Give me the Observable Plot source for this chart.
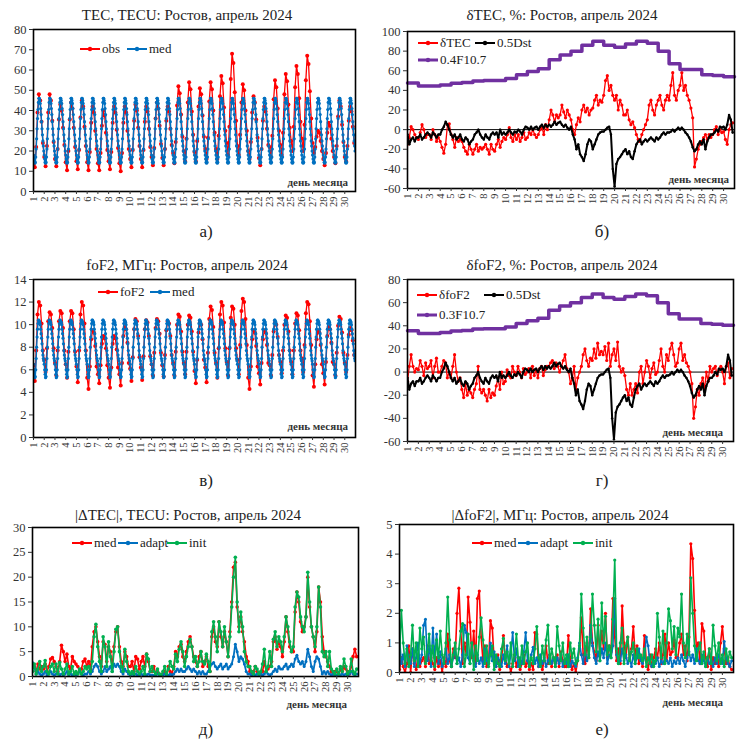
<!DOCTYPE html>
<html><head><meta charset="utf-8">
<script src="https://cdn.jsdelivr.net/npm/d3@7"></script>
<script src="https://cdn.jsdelivr.net/npm/@observablehq/plot@0.6"></script>
<style>
body{margin:0;background:#fff;}
#root{position:relative;width:751px;height:744px;overflow:hidden;font-family:"Liberation Serif","Times New Roman",serif;color:#222;}
.t{position:absolute;transform:translate(-50%,-50%);white-space:nowrap;font-size:15px;}
.lab{position:absolute;transform:translate(-50%,-50%);font-size:17px;}
.dm{position:absolute;font-size:11px;font-weight:bold;color:#333;transform:translate(-100%,-50%);white-space:nowrap;}
.leg{position:absolute;display:flex;align-items:center;font-size:13px;transform:translateY(-50%);white-space:nowrap;}
.panel{position:absolute;}
</style></head><body><div id="root"></div>
<script>
// ---------- DATA ----------
const days = d3.range(1, 31);
// monthly median diurnal profiles (hourly, repeated every day)
const medTECProfile = [18,16,14.5,14,14.5,17,21,26,31,36,40.5,44,46,46,45,43.5,41,38,34.5,31,28,25,22.5,20];
const medFoF2Profile = [6.5,6.0,5.6,5.3,5.4,6.0,7.0,8.0,8.9,9.6,10.1,10.4,10.4,10.3,10.2,10.0,9.6,9.2,8.8,8.3,7.7,7.3,7.0,6.8];
// observed TEC, 3-hourly (8 per day)
const obsTEC = [
16.5,12,22,39,48,45,34.5,24, 17,12.5,22.5,39,48,45,35,24.5, 16,12.5,21,35.5,43,40,31.5,23,
14.5,10.5,20,35.5,44,41,31.5,22, 15,11,20.5,36.5,45,42,32,22.5, 14.5,10.5,19.5,34,42,39,30,21,
14,10.5,19,32.5,40,37.5,29,20.5, 15,11,19.5,34,42,39,30.5,21.5, 14,10,19,34,42,39,30,21,
16,12,20.5,35,43,40,31.5,22.5, 16,12,20.5,34.5,42,39.5,31,22, 17,13,21.5,36,44,41,32.5,23.5,
16.5,13,21,35,42,39.5,31,23, 19,14,24.5,42.5,52,48.5,38,27, 20,15,26,44,54,50.5,39.5,28,
19.5,15,25,42,51,48,37.5,27, 21,16,26.5,44.5,54,50.5,40,29, 21,16,27.5,47,57,53.5,41.5,30,
24,18,32,55.5,68,63.5,49,35, 22.5,18,28,44,53,50,40,30, 20,16,24.5,39,47,44,35.5,26.5,
16.5,13,21,35,42,39.5,31,23, 22,17,27.5,45.5,55,51.5,41,30, 23,18,29,48,58,54.5,43,31.5,
25,20,32,51.5,62,58,46,34.5, 26,20,33,55,67,63,49.5,36, 24,19,22,27,30,29,25,20,
16,13,19,29,34,32.5,26,20, 17,14,22.5,37,45,42,33,24.5, 17,15,22.5,35,42,39.5,32,24];
// observed foF2, 3-hourly (8 per day)
const obsFoF2 = [
6.4,5.0,7.7,10.9,12.0,11.7,10.1,7.7, 6.9,5.8,7.9,10.3,11.1,10.9,9.7,7.9, 6.6,5.5,7.7,10.3,11.2,11.0,9.7,7.7,
6.5,5.3,7.6,10.3,11.2,11.0,9.6,7.6, 6.3,4.9,7.7,10.9,12.0,11.7,10.1,7.7, 5.3,4.3,6.3,8.7,9.5,9.3,8.1,6.3,
5.6,4.8,6.4,8.3,9.0,8.8,7.9,6.4, 5.3,4.4,6.2,8.3,9.0,8.8,7.8,6.2, 5.6,4.6,6.6,9.0,9.8,9.6,8.4,6.6,
6.1,5.0,7.1,9.6,10.5,10.3,9.0,7.1, 6.2,5.1,7.2,9.6,10.4,10.2,9.0,7.2, 6.5,5.5,7.5,9.7,10.5,10.3,9.2,7.5,
6.4,5.4,7.3,9.5,10.3,10.1,9.0,7.3, 6.6,5.5,7.6,10.0,10.9,10.7,9.4,7.6, 6.6,5.6,7.6,10.0,10.8,10.6,9.4,7.6,
5.9,4.8,6.9,9.3,10.2,10.0,8.7,6.9, 6.2,4.9,7.5,10.5,11.6,11.3,9.8,7.5, 6.6,5.3,7.9,10.9,12.0,11.7,10.2,7.9,
6.7,5.5,7.9,10.6,11.6,11.4,10.0,7.9, 6.9,5.6,8.2,11.2,12.3,12.0,10.5,8.2, 5.3,4.3,6.3,8.7,9.5,9.3,8.1,6.3,
5.7,4.7,6.6,8.7,9.5,9.3,8.2,6.6, 6.4,5.5,7.3,9.4,10.2,10.0,8.9,7.3, 6.7,5.7,7.7,10.0,10.8,10.6,9.4,7.7,
6.7,5.6,7.7,10.1,11.0,10.8,9.5,7.7, 7.0,5.8,8.2,11.0,12.0,11.8,10.3,8.2, 5.5,4.5,6.5,8.7,9.5,9.3,8.2,6.5,
5.7,4.7,6.7,9.0,9.8,9.6,8.4,6.7, 6.5,5.5,7.5,9.9,10.7,10.5,9.3,7.5, 6.6,5.8,7.3,9.1,9.7,9.5,8.6,7.3];
// deviations, %, 4-hourly (6 per day)
const dTEC = [
-15,-8,3,0,-5,-8, -10,-3,5,0,-8,-5, -5,-10,0,-5,-12,-8, -12,-18,-24,-15,5,6, -5,-10,-18,-8,-12,-10,
-12,-18,-22,-25,-15,-20, -25,-20,-15,-22,-18,-20, -18,-15,-20,-25,-15,-20, -22,-15,-10,-18,-12,-8, -10,-5,2,-8,-12,-5,
-10,-5,-12,-8,-3,-10, -8,-3,-5,0,-5,-8, -5,0,3,-5,5,0, 10,20,15,8,15,12, 15,25,18,12,20,15,
10,0,-5,5,12,8, 20,25,18,22,15,20, 22,30,35,25,30,28, 35,50,55,40,45,35, 30,35,20,30,25,15,
15,20,10,5,8,2, -5,-10,-12,-5,0,5, 10,25,30,20,15,25, 30,35,25,20,30,35, 30,45,58,35,30,40,
45,58,40,45,35,30, 22,12,-38,-30,-20,-15, -12,-8,-5,-10,-5,-8, -5,0,3,-5,0,-3, -2,-10,-15,0,5,7];
const dFoF2 = [
-8,5,15,5,0,3, 2,10,5,-3,8,3, 5,10,-5,5,12,0, 0,5,10,8,-5,0, -5,5,15,0,-8,-5,
-15,-22,-10,-20,-15,-18, -22,-15,-10,5,-15,-18, -15,-20,-25,-15,-22,-18, -20,-12,-5,-15,0,-10, -8,2,-3,-5,5,0,
-3,5,0,-5,3,-2, 0,3,-5,5,-3,2, -5,3,5,-3,2,5, 5,8,10,3,8,5, 0,5,10,15,3,0,
-10,-5,5,-15,-5,0, 5,15,20,10,5,12, 10,20,12,25,15,18, 15,22,10,25,5,15, 20,10,26,5,0,3,
-3,-15,-20,-10,-20,-15, -10,-18,0,5,-10,0, 10,5,-5,3,8,-2, 0,10,20,5,0,15, 10,20,25,15,5,8,
20,25,10,15,8,5, 0,-10,-40,-30,-15,-20, -10,-5,-15,0,-8,5, 0,3,5,-3,2,5, 0,-10,5,8,-5,3];
// 0.5·Dst, 4-hourly (6 per day)
const dst05 = [
-5,-15,-10,-8,-12,-8, -8,-5,-10,-8,-5,-3, -5,-8,-3,-5,-8,-5, -5,0,3,8,5,0, -5,-8,-5,-10,-8,-5,
-10,-12,-8,-10,-15,-12, -10,-5,-3,0,-5,-8, -10,-5,-8,-10,-5,-3, -5,-3,-8,0,-5,-3, -5,-3,0,-3,-5,-2,
-3,0,-2,-5,0,3, 2,0,3,0,2,3, 0,3,5,2,5,3, 5,3,5,8,5,7, 8,5,3,5,2,0,
3,-5,-10,-20,-15,-25, -28,-32,-25,-15,-10,-12, -20,-15,-10,-5,-3,-2, -2,0,2,3,-5,-40, -58,-35,-30,-28,-25,-22,
-20,-25,-22,-28,-30,-22, -15,-12,-10,-15,-12,-10, -12,-10,-8,-10,-12,-8, -10,-8,-5,-3,-5,-3, -3,-2,0,-2,0,2,
0,2,0,-3,-5,-8, -12,-18,-22,-20,-15,-12, -15,-10,-20,-12,-8,-5, -5,-3,0,-2,3,2, 3,0,5,15,10,-3];
// daily F10.7 index
const f107 = [119,111,111,114,118,120,124,125,125,130,140,148,155,178,190,200,215,225,215,210,218,225,220,200,168,153,153,140,138,135];
// |ΔTEC|, TECU, 4-hourly (6 per day)
const dTECmed = [
2.5,2,1,2.5,1.5,2, 1.5,2.5,1,2,3.5,3.8, 3,2,1,3,6.3,5, 3,4.5,2,1.5,4,3, 2.5,2,1,1.5,3,3.5,
2,3,1.5,6,9,10, 7,4,2,7,6.5,3, 6,5,2,6,9,10, 6,3,2,5,4,2, 2,3,1,4,3.5,1.5,
3,4,2,4.5,3,1, 1,2,0.5,1,0.5,0.3, 0.5,1,0.3,2,1,0.5, 2,5,4,6,6.5,4, 3,5,7,8,6,4,
3,2,4,5,2,3, 4,2,1,8,10,7, 6,11,8,6,9,7, 4,9,15,22,23,14, 10,12,9,7,4,3,
1,0.5,1,2,1,0.5, 0.5,1,3,1,1.5,2, 3,7,8,5.5,7,6, 4,7,12,9,6,5, 5,13,17,15,11,9,
10,12,20,14,10,8, 5,9,18,15,8,5, 4,3,2,1,0.5,1, 1,0.5,1.5,1,2,1.5, 1,0.5,2,4,5.5,4];
const dTECadapt = [
2.8,2,0.5,1,0.5,0.3, 0.5,1,0.3,0.5,1,0.5, 0.3,0.5,0.8,0.3,0.5,0.3, 0.5,1,0.3,0.5,0.3,0.5, 0.3,0.5,1,0.5,0.3,0.5,
0.5,1,0.5,1,2,2.5, 2,1,0.5,1,2,1, 1.5,2,1,2.5,2,2.5, 2,1,0.5,1.5,1,0.5, 0.3,0.5,0.3,0.5,0.3,0.3,
0.5,0.3,0.5,0.3,0.5,0.3, 0.3,0.2,0.3,0.5,0.3,0.2, 0.3,0.5,0.3,0.2,0.5,0.3, 0.5,1,1.5,1,1.5,1, 1,1.5,2,1.5,1,1.5,
1,0.5,1,0.5,1,0.5, 0.5,1,2,2.5,2.8,2, 1.5,2,2.5,1.5,2,2.5, 1.5,2,2.5,4,6.5,5, 3,4,3.5,2.5,1,0.5,
0.5,0.3,0.5,0.3,0.5,0.3, 0.5,0.3,0.5,1,0.5,0.3, 0.5,1,1.5,1,2,1.5, 1.5,2,2.5,1.5,2,2.5, 2,3.5,4.3,3,2.5,3,
2,3,5.5,4,2,1, 3,4,3.5,2,0.5,1, 0.5,1,0.5,0.3,0.5,0.3, 0.3,0.5,0.3,0.5,0.3,0.5, 0.3,0.5,1,0.5,0.3,0.5];
const dTECinit = [
1,2.5,0.5,1.5,3,1, 2,3.2,1,0.5,2,2.5, 1,2.5,0.5,2.8,1.5,0.5, 1.5,2.5,0.5,1,2,0.5, 1,0.5,1.5,0.5,1,2,
1.5,2,1,3,8,10.5, 6,3,1,8,6,2, 7,4,1,5,9.5,10, 5,2,1,5.5,3,1, 0.5,1,0.5,2,1,0.5,
1,2,0.5,4.5,3.5,1, 2,1,0.5,1.5,0.5,0.3, 1,2,0.5,1.5,3,2, 1.5,4.5,3,5.5,7,5, 2,4,6,7.5,6,3,
4,2,3,5,3,2.5, 4.5,3,1,9,11,8, 5,11,9,6,10,7, 4,8,14,20,24,15, 9,13,10,5,3,2,
2,1,0.5,2,1.5,0.5, 1,2.5,5.5,1,2,5, 2,7.5,9,6,8,7, 5,8,12,10,7,5, 6,14,17,16,12,10,
9,12,21,15,10,8, 6,10,18,14,5,4, 5,2,5,1.5,1,0.5, 1.5,0.5,2,1,3.5,2, 0.5,1,3.5,1,0.5,1.5];
// |ΔfoF2|, MHz, 4-hourly (6 per day)
const dFoF2med = [
0.1,0.5,0.2,0.0,0.3,0.9, 0.0,0.8,0.3,0.1,0.6,0.2, 0.4,0.5,0.2,0.9,0.3,0.5, 0.3,0.1,0.5,0.2,0.4,0.0, 0.5,0.2,1.3,0.4,0.2,0.8,
0.5,2.0,2.85,1.4,0.3,1.0, 0.6,2.55,1.7,0.5,1.4,0.3, 2.5,2.75,1.2,0.4,0.9,0.2, 0.3,1.75,1.5,0.4,0.2,0.6, 0.1,0.4,1.25,0.5,0.2,0.3,
0.0,0.3,0.6,0.2,0.5,0.1, 0.3,0.6,0.2,0.4,0.1,0.3, 0.1,1.35,1.3,0.2,0.5,0.1, 0.4,0.9,0.3,0.6,0.2,0.5, 0.3,0.6,0.2,0.7,0.4,0.2,
0.2,1.25,0.5,0.1,0.3,0.0, 0.4,0.8,1.85,0.6,0.3,1.0, 0.5,2.15,1.0,0.7,0.4,1.6, 0.6,1.4,0.8,2.0,0.5,0.9, 0.7,2.5,1.2,0.4,0.8,0.3,
2.25,1.0,0.5,1.2,0.4,0.8, 1.55,0.6,0.9,0.3,0.5,0.2, 1.25,0.4,0.1,0.6,0.2,0.5, 0.8,0.5,1.0,0.3,0.6,1.3, 0.4,1.0,0.6,0.7,1.1,0.5,
0.5,1.0,1.3,0.6,0.9,0.4, 1.2,4.35,3.85,2.1,0.8,1.0, 0.3,1.65,1.4,0.5,0.2,0.8, 0.1,0.5,0.3,0.6,0.2,1.0, 1.55,0.8,0.3,0.5,0.2,0.1];
const dFoF2adapt = [
1.2,0.3,0.6,0.2,0.9,0.4, 0.3,0.8,0.2,0.5,1.0,0.3, 0.6,1.6,1.8,0.4,0.9,0.2, 1.5,0.5,1.3,0.3,0.7,0.2, 0.4,0.8,0.3,0.6,0.2,0.5,
0.8,0.3,0.5,0.2,0.6,1.6, 1.35,0.5,0.3,1.0,0.4,0.2, 0.6,0.3,0.5,0.2,0.8,0.4, 0.3,1.0,0.4,0.7,0.2,0.5, 0.4,0.2,0.6,0.3,0.9,0.2,
0.6,1.35,0.4,0.8,0.2,0.5, 0.3,0.7,1.35,0.4,0.2,0.6, 0.85,0.3,0.5,0.2,0.6,0.3, 0.5,0.2,0.4,0.6,0.3,0.5, 0.2,0.5,0.3,0.6,0.2,0.4,
0.3,0.6,0.2,0.4,0.3,0.2, 0.5,1.0,0.6,0.3,0.8,0.4, 0.6,1.6,0.9,0.5,0.3,0.7, 0.4,0.8,0.5,1.0,0.3,0.6, 0.5,0.9,2.5,0.6,0.3,0.4,
0.8,0.4,0.6,0.3,0.5,0.2, 0.6,0.3,0.5,0.8,0.4,0.3, 0.5,1.2,0.9,0.3,0.2,0.4, 0.3,0.5,0.2,0.4,0.3,0.5, 0.4,0.3,0.5,0.2,0.4,0.3,
0.5,0.3,0.6,0.4,0.2,0.5, 0.7,0.4,0.6,0.3,0.8,0.4, 0.3,0.6,0.4,0.2,0.5,0.3, 0.4,0.2,0.5,0.3,0.6,0.4, 0.3,1.05,0.5,0.3,0.2,0.4];
const dFoF2init = [
0.5,2.1,1.0,0.3,0.8,0.2, 0.6,1.6,0.4,1.0,0.2,1.5, 0.8,1.2,0.3,0.7,1.3,0.4, 0.9,0.2,1.1,0.5,1.4,0.6, 0.3,1.0,2.55,1.1,0.2,0.6,
1.0,0.3,0.8,1.4,1.65,0.2, 0.6,1.3,0.3,1.0,0.1,0.9, 0.4,1.2,1.85,1.1,0.3,0.9, 0.2,0.6,0.9,0.1,0.6,0.3, 0.2,0.8,1.15,0.4,0.7,0.3,
1.0,0.2,0.6,1.3,0.5,0.2, 0.9,0.3,0.7,1.0,0.2,0.5, 0.3,0.8,1.55,0.5,0.2,0.9, 0.4,1.1,1.6,0.3,0.8,0.5, 0.2,1.55,0.9,0.4,1.0,0.3,
0.6,0.2,1.0,0.5,0.8,0.3, 0.4,0.9,2.65,1.5,0.6,1.2, 0.5,1.2,2.65,1.6,0.7,1.8, 0.4,2.35,1.0,1.9,0.6,0.9, 0.5,1.8,3.8,0.8,0.3,1.0,
1.5,0.3,0.9,1.2,0.4,0.7, 1.0,0.3,0.8,0.5,0.6,0.4, 0.8,0.2,0.5,0.3,0.6,0.2, 0.4,2.0,1.2,0.5,1.4,0.3, 1.0,2.15,1.75,0.8,1.55,0.6,
1.5,1.2,2.65,1.0,0.5,1.3, 0.6,3.2,2.0,0.9,0.4,0.8, 1.0,0.3,0.7,0.2,0.5,0.8, 0.3,1.6,0.9,0.4,1.0,0.3, 0.6,0.2,0.8,0.4,0.7,0.5];

// ---------- HELPERS ----------
const FONT = '"Liberation Serif","Times New Roman",serif';
const RED = "#ff0000", BLUE = "#0070c0", GREEN = "#00b050", PURPLE = "#7030a0", BLACK = "#000";
const root = document.getElementById("root");
// time in days since 1 April 00h
const ser = (vals, perDay) => vals.map((v, i) => ({t: i / perDay, v}));
const repeatProfile = (p) => days.flatMap((d, di) => p.map((v, h) => ({t: di + h / 24, v})));
const steps = (vals, k) => {
  const a = vals.map((v, i) => ({t: i, v: v * k}));
  a.push({t: vals.length, v: vals[vals.length - 1] * k});
  return a;
};
const dayTicks = d3.range(0, 30);

function lineMarks(data, color, sw, r, extra = {}) {
  const out = [Plot.line(data, {x: "t", y: "v", stroke: color, strokeWidth: sw, clip: true, ...extra})];
  if (r > 0) out.push(Plot.dot(data, {x: "t", y: "v", r, fill: color, stroke: "none", clip: true}));
  return out;
}

function panel({x0, y0, w, h, mL, mR, mT, mB, yDomain, yTicks, marks}) {
  const svg = Plot.plot({
    width: w, height: h, marginLeft: mL, marginRight: mR, marginTop: mT, marginBottom: mB,
    style: {fontFamily: FONT, background: "transparent", overflow: "visible", color: "#333"},
    x: {domain: [0, 30], label: null},
    y: {domain: yDomain, label: null},
    marks: [
      ...marks,
      Plot.frame({stroke: "#000", strokeWidth: 1.6}),
      Plot.axisY({ticks: yTicks, tickFormat: d => String(d), tickSize: 4, tickPadding: 3, fontSize: 12.5, label: null}),
      Plot.axisX({ticks: dayTicks, tickFormat: d => String(d + 1), tickRotate: -90, tickSize: 3, tickPadding: 2, fontSize: 10.5, label: null})
    ]
  });
  const div = document.createElement("div");
  div.className = "panel";
  div.style.left = x0 + "px"; div.style.top = y0 + "px";
  div.appendChild(svg);
  root.appendChild(div);
}

function text(cls, x, y, s) {
  const e = document.createElement("div");
  e.className = cls; e.style.left = x + "px"; e.style.top = y + "px"; e.textContent = s;
  root.appendChild(e);
}
function leg(x, y, color, label, sw = 2) {
  const e = document.createElement("div");
  e.className = "leg"; e.style.left = x + "px"; e.style.top = y + "px";
  e.innerHTML = `<svg width="20" height="8" style="margin-right:2px"><line x1="0" y1="4" x2="20" y2="4" stroke="${color}" stroke-width="${sw}"/><circle cx="10" cy="4" r="2.2" fill="${color}"/></svg><span>${label}</span>`;
  root.appendChild(e);
}

// ---------- PANELS ----------
// а) TEC
panel({x0: 0, y0: 20, w: 375, h: 200, mL: 33, mR: 20, mT: 9, mB: 29, yDomain: [0, 80], yTicks: d3.range(0, 81, 10),
  marks: [...lineMarks(ser(obsTEC, 8), RED, 1.3, 2), ...lineMarks(repeatProfile(medTECProfile), BLUE, 1.4, 1.6)]});
// б) δTEC
panel({x0: 375, y0: 20, w: 376, h: 200, mL: 32, mR: 17, mT: 11, mB: 32, yDomain: [-60, 100], yTicks: d3.range(-60, 101, 20),
  marks: [Plot.ruleY([0], {stroke: "#000", strokeWidth: 1}),
    ...lineMarks(ser(dTEC, 6), RED, 1.3, 1.6), ...lineMarks(ser(dst05, 6), BLACK, 2, 1.2),
    Plot.line(steps(f107, 0.4), {x: "t", y: "v", curve: "step-after", stroke: PURPLE, strokeWidth: 3.5})]});
// в) foF2
panel({x0: 0, y0: 268, w: 375, h: 200, mL: 33, mR: 20, mT: 11, mB: 31, yDomain: [0, 14], yTicks: d3.range(0, 15, 2),
  marks: [...lineMarks(ser(obsFoF2, 8), RED, 1.3, 2), ...lineMarks(repeatProfile(medFoF2Profile), BLUE, 1.4, 1.6)]});
// г) δfoF2
panel({x0: 375, y0: 268, w: 376, h: 200, mL: 32, mR: 18, mT: 11, mB: 27, yDomain: [-60, 80], yTicks: d3.range(-60, 81, 20),
  marks: [Plot.ruleY([0], {stroke: "#000", strokeWidth: 1}),
    ...lineMarks(ser(dFoF2, 6), RED, 1.3, 1.6), ...lineMarks(ser(dst05, 6), BLACK, 2, 1.2),
    Plot.line(steps(f107, 0.3), {x: "t", y: "v", curve: "step-after", stroke: PURPLE, strokeWidth: 3.5})]});
// д) |ΔTEC|
panel({x0: 0, y0: 516, w: 375, h: 200, mL: 32, mR: 17, mT: 11, mB: 40, yDomain: [0, 30], yTicks: d3.range(0, 31, 5),
  marks: [...lineMarks(ser(dTECmed, 6), RED, 1.6, 1.8), ...lineMarks(ser(dTECadapt, 6), BLUE, 1.8, 1.5),
    ...lineMarks(ser(dTECinit, 6), GREEN, 1.6, 1.8)]});
// е) |ΔfoF2|
panel({x0: 375, y0: 516, w: 376, h: 200, mL: 24, mR: 18, mT: 8, mB: 44, yDomain: [0, 5], yTicks: d3.range(0, 6, 1),
  marks: [...lineMarks(ser(dFoF2med, 6), RED, 1.6, 1.6), ...lineMarks(ser(dFoF2adapt, 6), BLUE, 1.6, 1.5),
    ...lineMarks(ser(dFoF2init, 6), GREEN, 1.6, 1.6)]});

// ---------- TEXT ----------
text("t", 187, 15, "TEC, TECU: Ростов, апрель 2024");
text("t", 562, 15, "δTEC, %: Ростов, апрель 2024");
text("t", 187, 265, "foF2, МГц: Ростов, апрель 2024");
text("t", 562, 265, "δfoF2, %: Ростов, апрель 2024");
text("t", 188, 515, "|ΔTEC|, TECU: Ростов, апрель 2024");
text("t", 560, 515, "|ΔfoF2|, МГц: Ростов, апрель 2024");

text("dm", 348, 182, "день месяца");
text("dm", 729, 179, "день месяца");
text("dm", 348, 426, "день месяца");
text("dm", 723, 432, "день месяца");
text("dm", 347, 704, "день месяца");
text("dm", 723, 702, "день месяца");

text("lab", 206, 232, "а)");
text("lab", 602, 232, "б)");
text("lab", 206, 481, "в)");
text("lab", 602, 481, "г)");
text("lab", 206, 730, "д)");
text("lab", 602, 730, "е)");

leg(80, 49, RED, "obs"); leg(127, 49, BLUE, "med");
leg(418, 43, RED, "δTEC"); leg(475, 43, BLACK, "0.5Dst"); leg(418, 60, PURPLE, "0.4F10.7", 3);
leg(98, 292, RED, "foF2"); leg(150, 292, BLUE, "med");
leg(417, 295, RED, "δfoF2"); leg(484, 295, BLACK, "0.5Dst"); leg(417, 315, PURPLE, "0.3F10.7", 3);
leg(72, 543, RED, "med"); leg(118, 543, BLUE, "adapt"); leg(167, 543, GREEN, "init");
leg(472, 543, RED, "med"); leg(518, 543, BLUE, "adapt"); leg(573, 543, GREEN, "init");
</script></body></html>
